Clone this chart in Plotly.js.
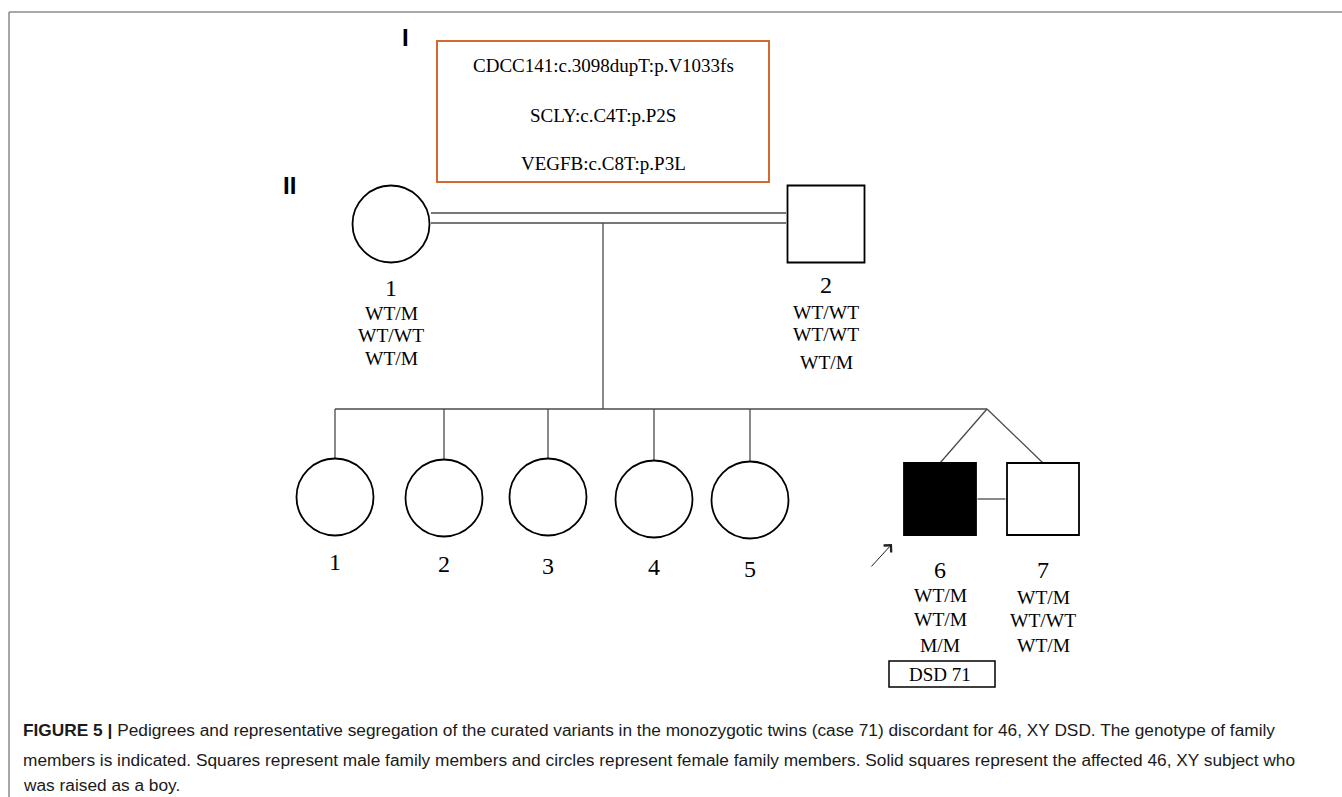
<!DOCTYPE html>
<html>
<head>
<meta charset="utf-8">
<script src="https://cdn.plot.ly/plotly-3.0.1.min.js"></script>
<style>
  html, body { margin: 0; padding: 0; background: #ffffff; }
  #chart { width: 1342px; height: 797px; }
</style>
</head>
<body>
<div id="chart"></div>
<script>
// ---------------- DATA ----------------
const generationLabels = ['I', 'II'];
const variantLabels = ['CDCC141:c.3098dupT:p.V1033fs', 'SCLY:c.C4T:p.P2S', 'VEGFB:c.C8T:p.P3L'];
const memberNumber = ['1', '2', '1', '2', '3', '4', '5', '6', '7'];
const memberGeneration = [1, 1, 2, 2, 2, 2, 2, 2, 2];
const memberSex = ['F', 'M', 'F', 'F', 'F', 'F', 'F', 'M', 'M'];
const memberAffected = [false, false, false, false, false, false, false, true, false];
const genotypeCDCC141 = ['WT/M', 'WT/WT', '', '', '', '', '', 'WT/M', 'WT/M'];
const genotypeSCLY = ['WT/WT', 'WT/WT', '', '', '', '', '', 'WT/M', 'WT/WT'];
const genotypeVEGFB = ['WT/M', 'WT/M', '', '', '', '', '', 'M/M', 'WT/M'];
const twinPair = [7, 8];           // indices of the monozygotic twins
const probandIndex = 7;
const probandTag = 'DSD 71';
const captionLines = [
  '<b>FIGURE 5 | </b>Pedigrees and representative segregation of the curated variants in the monozygotic twins (case 71) discordant for 46, XY DSD. The genotype of family',
  'members is indicated. Squares represent male family members and circles represent female family members. Solid squares represent the affected 46, XY subject who',
  'was raised as a boy.'
];

// ---------------- LAYOUT (positions in pixel-like axis units) ----------------
const posX = [391, 826, 335, 444, 548, 654, 750, 940, 1043];
const posY = [224, 224, 497, 498, 497, 499, 500, 499, 499];
const numberY = [288, 285, 562, 564, 566, 567, 569, 570, 570];
const genoY = [[313, 335, 358], [312, 334, 362], null, null, null, null, null, [595, 619, 645], [597, 620, 645]];
const genLabelPos = [[405, 37], [289, 185]];
const variantBox = {x0: 437, x1: 769, y0: 41, y1: 182, textY: [65, 115, 163]};
const sibshipY = 409;
const twinApexX = 987;

const serif = 'Liberation Serif, Times New Roman, serif';
const sans = 'Liberation Sans, Arial, sans-serif';
const lineGrey = '#4a4a4a';

function halfH(i) { return memberSex[i] === 'F' ? 39 : (memberGeneration[i] === 1 ? 39 : 36); }
function halfW(i) { return memberSex[i] === 'F' ? 40 : (memberGeneration[i] === 1 ? 40 : 37.5); }

// ---------------- TRACES ----------------
const traces = [];

// pedigree connecting lines
const lx = [], ly = [];
function seg(x0, y0, x1, y1) { lx.push(x0, x1, null); ly.push(y0, y1, null); }
// couple (consanguineous double line)
const mom = 0, dad = 1;
const coupleL = posX[mom] + halfW(mom), coupleR = posX[dad] - halfW(dad);
seg(coupleL, posY[mom] - 11, coupleR, posY[dad] - 11);
seg(coupleL, posY[mom] - 1, coupleR, posY[dad] - 1);
// descent line
const descentX = 603;
seg(descentX, posY[mom] - 1, descentX, sibshipY);
// sibship line
const children = [2, 3, 4, 5, 6, 7, 8];
seg(posX[2], sibshipY, twinApexX, sibshipY);
children.forEach(i => {
  if (twinPair.indexOf(i) >= 0) {
    seg(twinApexX, sibshipY, posX[i], posY[i] - halfH(i));
  } else {
    seg(posX[i], sibshipY, posX[i], posY[i] - halfH(i));
  }
});
// monozygotic bar between twins
seg(posX[twinPair[0]] + halfW(twinPair[0]), posY[twinPair[0]], posX[twinPair[1]] - halfW(twinPair[1]), posY[twinPair[1]]);

traces.push({
  type: 'scatter', mode: 'lines', x: lx, y: ly,
  line: {color: lineGrey, width: 1.3}, hoverinfo: 'skip', showlegend: false
});

// individuals as markers
function groupTrace(filterFn, symbol, fill) {
  const idx = memberNumber.map((_, i) => i).filter(filterFn);
  return {
    type: 'scatter', mode: 'markers',
    x: idx.map(i => posX[i]), y: idx.map(i => posY[i]),
    marker: {
      symbol: symbol,
      size: idx.map(i => (memberSex[i] === 'F' ? 77 : (memberGeneration[i] === 1 ? 77 : 72))),
      color: fill,
      opacity: 1,
      line: {color: '#000000', width: 1.8}
    },
    hoverinfo: 'skip', showlegend: false
  };
}
traces.push(groupTrace(i => memberSex[i] === 'F', 'circle', '#ffffff'));
traces.push(groupTrace(i => memberSex[i] === 'M' && !memberAffected[i], 'square', '#ffffff'));
traces.push(groupTrace(i => memberSex[i] === 'M' && memberAffected[i], 'square', '#000000'));

// ---------------- ANNOTATIONS ----------------
const annotations = [];
generationLabels.forEach((g, k) => {
  annotations.push({x: genLabelPos[k][0], y: genLabelPos[k][1], xref: 'x', yref: 'y', text: '<b>' + g + '</b>',
    showarrow: false, font: {family: sans, size: 24, color: '#000'}});
});
variantLabels.forEach((v, k) => {
  annotations.push({x: (variantBox.x0 + variantBox.x1) / 2, y: variantBox.textY[k], xref: 'x', yref: 'y', text: v,
    showarrow: false, font: {family: serif, size: 19, color: '#000'}});
});
memberNumber.forEach((n, i) => {
  annotations.push({x: posX[i], y: numberY[i], xref: 'x', yref: 'y', text: n,
    showarrow: false, font: {family: serif, size: 24, color: '#000'}});
  if (genoY[i]) {
    [genotypeCDCC141[i], genotypeSCLY[i], genotypeVEGFB[i]].forEach((gt, r) => {
      annotations.push({x: posX[i], y: genoY[i][r], xref: 'x', yref: 'y', text: gt,
        showarrow: false, font: {family: serif, size: 19.5, color: '#000'}});
    });
  }
});
// proband tag
annotations.push({x: posX[probandIndex], y: 674, xref: 'x', yref: 'y', text: probandTag,
  showarrow: false, font: {family: serif, size: 19, color: '#000'}});
// proband arrow
annotations.push({x: posX[probandIndex] - 48, y: posY[probandIndex] + 45, xref: 'x', yref: 'y',
  ax: posX[probandIndex] - 70, ay: posY[probandIndex] + 69, axref: 'x', ayref: 'y',
  text: '', showarrow: true, arrowhead: 4, arrowsize: 2, arrowwidth: 1, arrowcolor: '#222'});
// caption
captionLines.forEach((t, k) => {
  annotations.push({x: 21, y: [730, 760, 785][k], xref: 'x', yref: 'y', xanchor: 'left', text: t,
    showarrow: false, font: {family: sans, size: 17.3, color: '#1a1a1a'}});
});

// ---------------- SHAPES ----------------
const shapes = [
  // frame
  {type: 'line', xref: 'x', yref: 'y', x0: 9, y0: 12, x1: 1342, y1: 12, line: {color: '#a8a8a8', width: 2}},
  {type: 'line', xref: 'x', yref: 'y', x0: 9, y0: 12, x1: 9, y1: 797, line: {color: '#8a8a8a', width: 1.5}},
  // variant box
  {type: 'rect', xref: 'x', yref: 'y', x0: variantBox.x0, x1: variantBox.x1, y0: variantBox.y0, y1: variantBox.y1,
    line: {color: '#d4692f', width: 2}},
  // proband tag box
  {type: 'rect', xref: 'x', yref: 'y', x0: 889, x1: 995, y0: 661, y1: 687, line: {color: '#000', width: 1.5}}
];

const layout = {
  width: 1342, height: 797,
  margin: {l: 0, r: 0, t: 0, b: 0, pad: 0},
  paper_bgcolor: '#ffffff', plot_bgcolor: '#ffffff',
  xaxis: {range: [0, 1342], visible: false, fixedrange: true},
  yaxis: {range: [797, 0], visible: false, fixedrange: true},
  showlegend: false,
  shapes: shapes,
  annotations: annotations
};

Plotly.newPlot('chart', traces, layout, {displayModeBar: false, staticPlot: true});
</script>
</body>
</html>
